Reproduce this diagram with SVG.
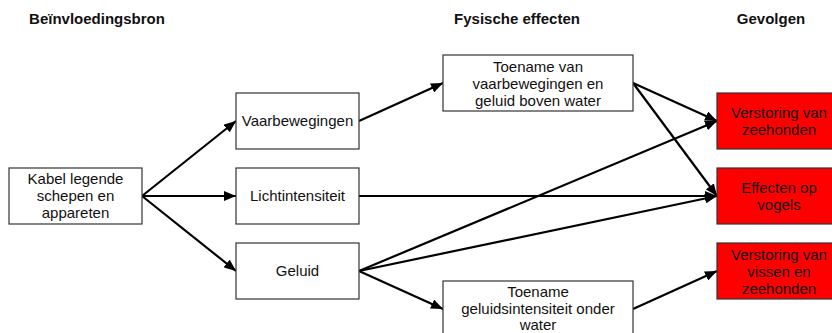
<svg xmlns="http://www.w3.org/2000/svg" width="832" height="333" viewBox="0 0 832 333">
<style>
text{font-family:"Liberation Sans",Arial,sans-serif;font-size:15px;fill:#111;text-anchor:middle}
.h{font-weight:bold;font-size:15px}
.b{fill:#fff;stroke:#333;stroke-width:1.2}
.r{fill:#ff0000;stroke:#333;stroke-width:1.2}
.c{stroke:#000;stroke-width:2.2;fill:none;marker-end:url(#ah)}
</style>
<defs>
<marker id="ah" viewBox="0 0 12 10" refX="12" refY="5" markerWidth="12" markerHeight="10" markerUnits="userSpaceOnUse" orient="auto">
<path d="M0,0 L12,5 L0,10 z" fill="#000"/>
</marker>
</defs>
<rect width="832" height="333" fill="#fff"/>
<g id="headers">
<text class="h" x="97" y="24">Beïnvloedingsbron</text>
<text class="h" x="517" y="24">Fysische effecten</text>
<text class="h" x="771" y="24">Gevolgen</text>
</g>
<g id="connectors">
<line class="c" x1="142" y1="196" x2="236" y2="121"/>
<line class="c" x1="142" y1="196" x2="236" y2="196"/>
<line class="c" x1="142" y1="196" x2="236" y2="271"/>
<line class="c" x1="359" y1="121" x2="443" y2="83"/>
<line class="c" x1="633" y1="83" x2="717" y2="121"/>
<line class="c" x1="633" y1="83" x2="717" y2="196"/>
<line class="c" x1="359" y1="196" x2="717" y2="196"/>
<line class="c" x1="359" y1="271" x2="717" y2="121"/>
<line class="c" x1="359" y1="271" x2="717" y2="196"/>
<line class="c" x1="359" y1="271" x2="443" y2="309"/>
<line class="c" x1="633" y1="309" x2="717" y2="271"/>
</g>
<g id="kabel">
<rect class="b" x="9" y="168" width="133" height="56"/>
<text x="75.5" y="184">Kabel legende</text>
<text x="75.5" y="201">schepen en</text>
<text x="75.5" y="218">appareten</text>
</g>
<g id="vaarbewegingen">
<rect class="b" x="236" y="93" width="123" height="56"/>
<text x="297.5" y="126">Vaarbewegingen</text>
</g>
<g id="lichtintensiteit">
<rect class="b" x="236" y="168" width="123" height="56"/>
<text x="297.5" y="201">Lichtintensiteit</text>
</g>
<g id="geluid">
<rect class="b" x="236" y="243" width="123" height="56"/>
<text x="297.5" y="276">Geluid</text>
</g>
<g id="toename-boven">
<rect class="b" x="443" y="55" width="190" height="56"/>
<text x="538" y="72">Toename van</text>
<text x="538" y="89">vaarbewegingen en</text>
<text x="538" y="106">geluid boven water</text>
</g>
<g id="toename-onder">
<rect class="b" x="443" y="281" width="190" height="56"/>
<text x="538" y="297">Toename</text>
<text x="538" y="314">geluidsintensiteit onder</text>
<text x="538" y="330">water</text>
</g>
<g id="verstoring-zeehonden">
<rect class="r" x="717" y="93" width="124" height="56"/>
<text x="779" y="118">Verstoring van</text>
<text x="779" y="135">zeehonden</text>
</g>
<g id="effecten-vogels">
<rect class="r" x="717" y="168" width="124" height="56"/>
<text x="779" y="193">Effecten op</text>
<text x="779" y="210">vogels</text>
</g>
<g id="verstoring-vissen">
<rect class="r" x="717" y="243" width="124" height="56"/>
<text x="779" y="260">Verstoring van</text>
<text x="779" y="277">vissen en</text>
<text x="779" y="294">zeehonden</text>
</g>
</svg>
